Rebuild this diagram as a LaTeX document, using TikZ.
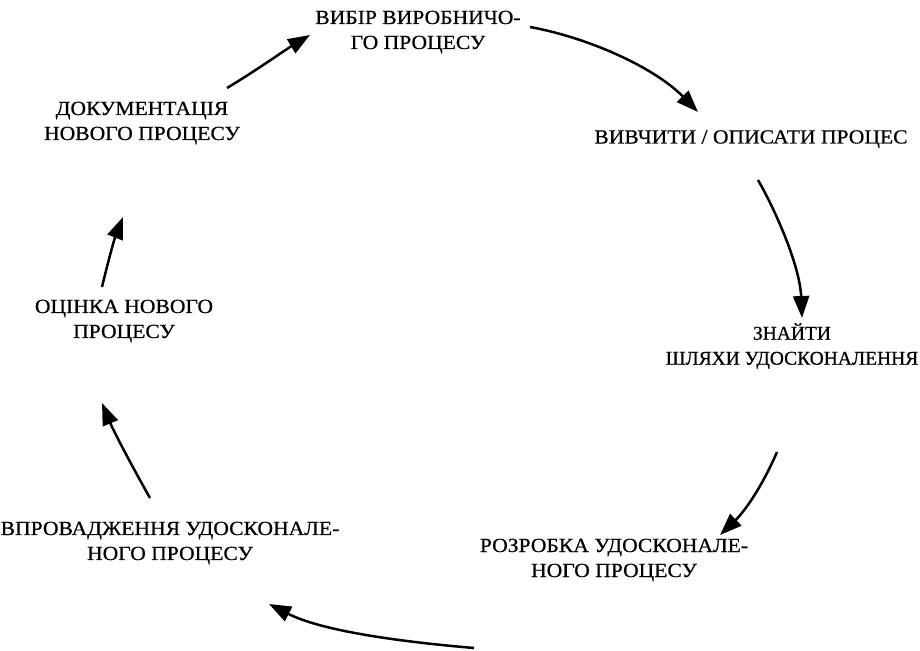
\documentclass[tikz,border=0pt]{standalone}
\usepackage{fontspec}
\setmainfont{Liberation Serif}[FakeStretch=1.08,FakeBold=0.6]
\newfontfamily\plainserif{Liberation Serif}[FakeBold=0.6]
\usetikzlibrary{arrows.meta}
\begin{document}
\begin{tikzpicture}[x=1pt,y=-1pt,
  lbl/.style={align=center,inner sep=0pt,font=\fontsize{20}{25}\selectfont},
  flow/.style={line width=2.5pt,-{Triangle[length=22pt,width=16pt]}}]
\useasboundingbox[fill=white] (0,0) rectangle (920,650);
\node[lbl] (n1) at (418,32) {ВИБІР ВИРОБНИЧО-\\ГО ПРОЦЕСУ};
\node[lbl] (n2) at (751,139) {ВИВЧИТИ / ОПИСАТИ ПРОЦЕС};
\node[lbl,font=\plainserif\fontsize{19.5}{25}\selectfont] (n3) at (792,346) {ЗНАЙТИ\\ШЛЯХИ УДОСКОНАЛЕННЯ};
\node[lbl] (n4) at (614,560) {РОЗРОБКА УДОСКОНАЛЕ-\\НОГО ПРОЦЕСУ};
\node[lbl] (n5) at (170,543) {ВПРОВАДЖЕННЯ УДОСКОНАЛЕ-\\НОГО ПРОЦЕСУ};
\node[lbl] (n6) at (124,321) {ОЦІНКА НОВОГО\\ПРОЦЕСУ};
\node[lbl] (n7) at (142,123) {ДОКУМЕНТАЦІЯ\\НОВОГО ПРОЦЕСУ};
% connector ends
\coordinate (a1s) at (530,27);  \coordinate (a1e) at (698,112);
\coordinate (a2s) at (758,180); \coordinate (a2e) at (802,318);
\coordinate (a3s) at (777,452); \coordinate (a3e) at (720,535);
\coordinate (a4s) at (474,648); \coordinate (a4e) at (269,604);
\coordinate (a5s) at (150,498); \coordinate (a5e) at (102,403);
\coordinate (a6s) at (102,287); \coordinate (a6e) at (123,217);
\coordinate (a7s) at (227,88);  \coordinate (a7e) at (310,35);
\draw[flow] (a1s) .. controls (590,38) and (655,68) .. (a1e);
\draw[flow] (a2s) .. controls (778,215) and (800,268) .. (a2e);
\draw[flow] (a3s) .. controls (765,480) and (748,508) .. (a3e);
\draw[flow] (a4s) .. controls (392,641) and (320,630) .. (a4e);
\draw[flow] (a5s) .. controls (133,468) and (114,432) .. (a5e);
\draw[flow] (a6s) .. controls (108,262) and (114,240) .. (a6e);
\draw[flow] (a7s) .. controls (257,70) and (285,50) .. (a7e);
\end{tikzpicture}
\end{document}
